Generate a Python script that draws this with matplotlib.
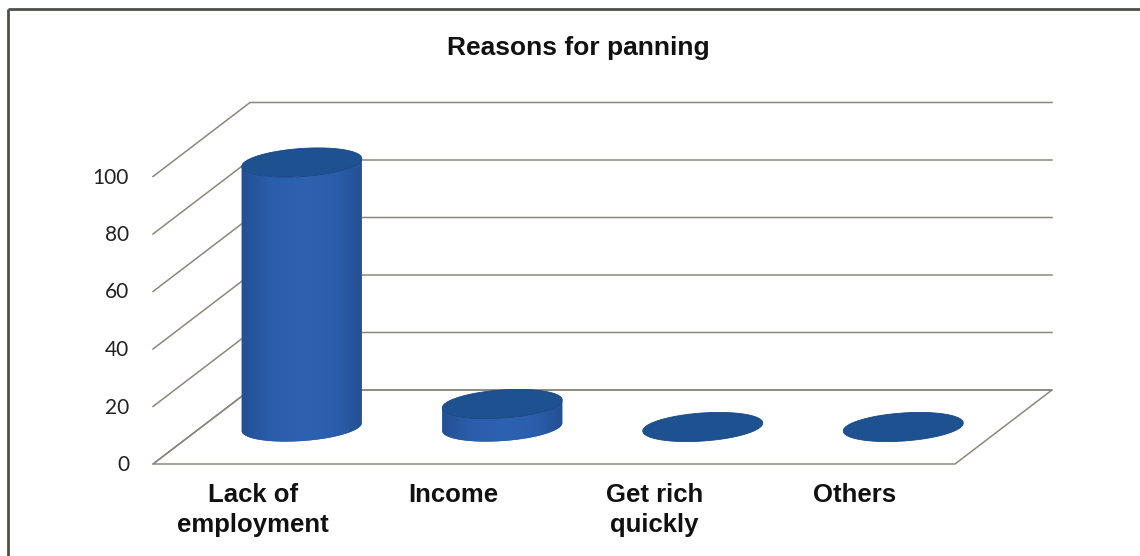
import numpy as np
import matplotlib.pyplot as plt
from matplotlib.patches import Polygon
from matplotlib.colors import LinearSegmentedColormap

categories = ["Lack of\nemployment", "Income", "Get rich\nquickly", "Others"]
values = [92, 8, 0, 0]
yticks = [0, 20, 40, 60, 80, 100]
title = "Reasons for panning"

# geometry of the 3-D box, in pixels
X_LEFT, X_RIGHT = 153, 955
Y_FLOOR = 464
PX_PER_UNIT = 2.875
DEPTH_DX, DEPTH_DY = 97, -74
cat_w = (X_RIGHT - X_LEFT) / len(categories)


def proj(x, v, d):
    """category position x, value v, depth d (0 front .. 1 back) -> pixel"""
    return X_LEFT + x * cat_w + d * DEPTH_DX, Y_FLOOR - v * PX_PER_UNIT + d * DEPTH_DY


fig = plt.figure(figsize=(11.4, 5.56), dpi=100)
ax = fig.add_axes([0, 0, 1, 1])
ax.set_xlim(0, 1140)
ax.set_ylim(556, 0)
ax.axis("off")

label_font = ["Liberation Sans Narrow", "Liberation Sans", "DejaVu Sans"]
grid_c = "#8c877c"

# outer frame
ax.plot([8, 1140], [9, 9], color="#4b5048", lw=2, solid_capstyle="butt")
ax.plot([8, 8], [9, 556], color="#4b5048", lw=2, solid_capstyle="butt")

ax.text(578, 48, title, ha="center", va="center", fontsize=19,
        fontweight="bold", family=label_font, color="#111111")

# floor, side wall and back wall gridlines
n = len(categories)
floor = [proj(0, 0, 0), proj(n, 0, 0), proj(n, 0, 1), proj(0, 0, 1)]
ax.add_patch(Polygon(floor, closed=True, fill=False, ec=grid_c, lw=1.1))
for v in yticks:
    xa, ya = proj(0, v, 0)
    xb, yb = proj(0, v, 1)
    xc, yc = proj(n, v, 1)
    ax.plot([xa, xb, xc], [ya, yb, yc], color=grid_c, lw=1.1)
    ax.text(129, ya + 1, str(v), ha="right", va="center", fontsize=15,
            family=["Lato", "DejaVu Sans"], color="#222222")

# cylinders
R = 0.3 * cat_w
B = 14
tilt = np.deg2rad(4)
cs, sn = np.cos(tilt), np.sin(tilt)
body_cmap = LinearSegmentedColormap.from_list(
    "body", ["#234f92", "#2a5ead", "#2d62b1", "#2b5fae", "#244f91"])


def ellipse_pts(cx, cy, t):
    x = cx + R * np.cos(t) * cs - B * np.sin(t) * sn
    y = cy - (R * np.cos(t) * sn + B * np.sin(t) * cs)
    return np.column_stack([x, y])


front = np.linspace(np.pi, 2 * np.pi, 80)
full = np.linspace(0, 2 * np.pi, 160)
for i, v in enumerate(values):
    cx, cy0 = proj(i + 0.5, 0, 0.5)
    _, cy1 = proj(i + 0.5, v, 0.5)
    if v > 0:
        pts = np.vstack([ellipse_pts(cx, cy0, front),
                         ellipse_pts(cx, cy1, front[::-1])])
        body = Polygon(pts, closed=True, fc="#2b5fae", ec="none")
        ax.add_patch(body)
        grad = np.linspace(0, 1, 200)[None, :]
        im = ax.imshow(grad, cmap=body_cmap, aspect="auto",
                       extent=[cx - R - 2, cx + R + 2, cy0 + B + 4, cy1 - B - 4],
                       zorder=2)
        im.set_clip_path(body)
    ax.add_patch(Polygon(ellipse_pts(cx, cy1, full), closed=True,
                         fc="#1d5190", ec="#184682", lw=0.6, zorder=3))
    lx, ly = proj(i + 0.5, 0, 0)
    ax.text(lx, ly + 19, categories[i], ha="center", va="top", fontsize=18.5,
            fontweight="bold", family=label_font, color="#111111",
            linespacing=1.32)

fig.savefig("out.png", dpi=100)
